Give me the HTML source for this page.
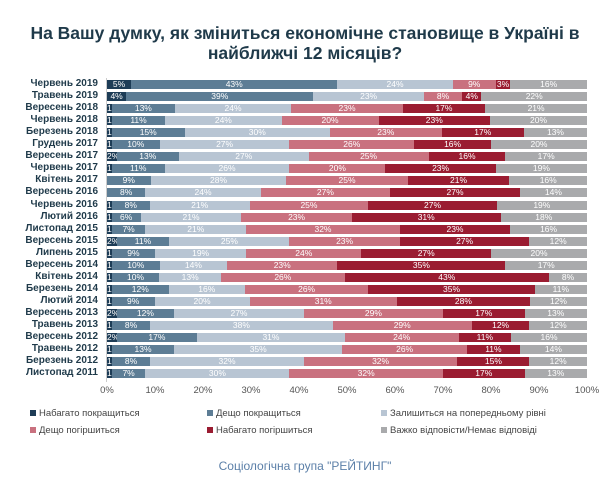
<!DOCTYPE html>
<html><head><meta charset="utf-8"><style>
body{margin:0;width:610px;height:483px;background:#fff;position:relative;overflow:hidden;font-family:"Liberation Sans","DejaVu Sans",sans-serif}
.t{position:absolute;left:0;width:610px;text-align:center;font-weight:bold;font-size:17.5px;color:#1f3a4a}
.lab{position:absolute;right:512px;font-size:10px;font-weight:bold;color:#1f3a4a;white-space:nowrap;line-height:12px}
.row{position:absolute;left:107px;width:480px;height:9px;display:flex}
.row div{height:9px;font-size:8.5px;line-height:9px;color:#fff;text-align:center;overflow:hidden;white-space:nowrap}
.a{background:#1d3c56}.b{background:#5d7d95}.c{background:#b8c5d3}.d{background:#c9717f}.e{background:#9a1c31}.f{background:#a9aaac}
.tick{position:absolute;top:385px;font-size:9.5px;color:#555;width:40px;margin-left:-20px;text-align:center}
.lg{position:absolute;font-size:9.5px;color:#444;white-space:nowrap}
.lg i{display:inline-block;width:6px;height:6px;margin-right:3px}
</style></head><body>
<div class="t" style="top:23px">На Вашу думку, як зміниться економічне становище в Україні в</div>
<div class="t" style="top:43px">найближчі 12 місяців?</div>
<div style="position:absolute;left:106px;top:78px;width:1px;height:304px;background:#ccc"></div>

<div class="lab" style="top:78px">Червень 2019</div>
<div class="row" style="top:80px"><div class="a" style="flex:5">5%</div><div class="b" style="flex:43">43%</div><div class="c" style="flex:24">24%</div><div class="d" style="flex:9">9%</div><div class="e" style="flex:3">3%</div><div class="f" style="flex:16">16%</div></div>
<div class="lab" style="top:90px">Травень 2019</div>
<div class="row" style="top:92px"><div class="a" style="flex:4">4%</div><div class="b" style="flex:39">39%</div><div class="c" style="flex:23">23%</div><div class="d" style="flex:8">8%</div><div class="e" style="flex:4">4%</div><div class="f" style="flex:22">22%</div></div>
<div class="lab" style="top:102px">Вересень 2018</div>
<div class="row" style="top:104px"><div class="a" style="flex:1">1%</div><div class="b" style="flex:13">13%</div><div class="c" style="flex:24">24%</div><div class="d" style="flex:23">23%</div><div class="e" style="flex:17">17%</div><div class="f" style="flex:21">21%</div></div>
<div class="lab" style="top:114px">Червень 2018</div>
<div class="row" style="top:116px"><div class="a" style="flex:1">1%</div><div class="b" style="flex:11">11%</div><div class="c" style="flex:24">24%</div><div class="d" style="flex:20">20%</div><div class="e" style="flex:23">23%</div><div class="f" style="flex:20">20%</div></div>
<div class="lab" style="top:126px">Березень 2018</div>
<div class="row" style="top:128px"><div class="a" style="flex:1">1%</div><div class="b" style="flex:15">15%</div><div class="c" style="flex:30">30%</div><div class="d" style="flex:23">23%</div><div class="e" style="flex:17">17%</div><div class="f" style="flex:13">13%</div></div>
<div class="lab" style="top:138px">Грудень 2017</div>
<div class="row" style="top:140px"><div class="a" style="flex:1">1%</div><div class="b" style="flex:10">10%</div><div class="c" style="flex:27">27%</div><div class="d" style="flex:26">26%</div><div class="e" style="flex:16">16%</div><div class="f" style="flex:20">20%</div></div>
<div class="lab" style="top:150px">Вересень 2017</div>
<div class="row" style="top:152px"><div class="a" style="flex:2">2%</div><div class="b" style="flex:13">13%</div><div class="c" style="flex:27">27%</div><div class="d" style="flex:25">25%</div><div class="e" style="flex:16">16%</div><div class="f" style="flex:17">17%</div></div>
<div class="lab" style="top:162px">Червень 2017</div>
<div class="row" style="top:164px"><div class="a" style="flex:1">1%</div><div class="b" style="flex:11">11%</div><div class="c" style="flex:26">26%</div><div class="d" style="flex:20">20%</div><div class="e" style="flex:23">23%</div><div class="f" style="flex:19">19%</div></div>
<div class="lab" style="top:174px">Квітень 2017</div>
<div class="row" style="top:176px"><div class="b" style="flex:9">9%</div><div class="c" style="flex:28">28%</div><div class="d" style="flex:25">25%</div><div class="e" style="flex:21">21%</div><div class="f" style="flex:16">16%</div></div>
<div class="lab" style="top:186px">Вересень 2016</div>
<div class="row" style="top:188px"><div class="b" style="flex:8">8%</div><div class="c" style="flex:24">24%</div><div class="d" style="flex:27">27%</div><div class="e" style="flex:27">27%</div><div class="f" style="flex:14">14%</div></div>
<div class="lab" style="top:199px">Червень 2016</div>
<div class="row" style="top:201px"><div class="a" style="flex:1">1%</div><div class="b" style="flex:8">8%</div><div class="c" style="flex:21">21%</div><div class="d" style="flex:25">25%</div><div class="e" style="flex:27">27%</div><div class="f" style="flex:19">19%</div></div>
<div class="lab" style="top:211px">Лютий 2016</div>
<div class="row" style="top:213px"><div class="a" style="flex:1">1%</div><div class="b" style="flex:6">6%</div><div class="c" style="flex:21">21%</div><div class="d" style="flex:23">23%</div><div class="e" style="flex:31">31%</div><div class="f" style="flex:18">18%</div></div>
<div class="lab" style="top:223px">Листопад 2015</div>
<div class="row" style="top:225px"><div class="a" style="flex:1">1%</div><div class="b" style="flex:7">7%</div><div class="c" style="flex:21">21%</div><div class="d" style="flex:32">32%</div><div class="e" style="flex:23">23%</div><div class="f" style="flex:16">16%</div></div>
<div class="lab" style="top:235px">Вересень 2015</div>
<div class="row" style="top:237px"><div class="a" style="flex:2">2%</div><div class="b" style="flex:11">11%</div><div class="c" style="flex:25">25%</div><div class="d" style="flex:23">23%</div><div class="e" style="flex:27">27%</div><div class="f" style="flex:12">12%</div></div>
<div class="lab" style="top:247px">Липень 2015</div>
<div class="row" style="top:249px"><div class="a" style="flex:1">1%</div><div class="b" style="flex:9">9%</div><div class="c" style="flex:19">19%</div><div class="d" style="flex:24">24%</div><div class="e" style="flex:27">27%</div><div class="f" style="flex:20">20%</div></div>
<div class="lab" style="top:259px">Вересень 2014</div>
<div class="row" style="top:261px"><div class="a" style="flex:1">1%</div><div class="b" style="flex:10">10%</div><div class="c" style="flex:14">14%</div><div class="d" style="flex:23">23%</div><div class="e" style="flex:35">35%</div><div class="f" style="flex:17">17%</div></div>
<div class="lab" style="top:271px">Квітень 2014</div>
<div class="row" style="top:273px"><div class="a" style="flex:1">1%</div><div class="b" style="flex:10">10%</div><div class="c" style="flex:13">13%</div><div class="d" style="flex:26">26%</div><div class="e" style="flex:43">43%</div><div class="f" style="flex:8">8%</div></div>
<div class="lab" style="top:283px">Березень 2014</div>
<div class="row" style="top:285px"><div class="a" style="flex:1">1%</div><div class="b" style="flex:12">12%</div><div class="c" style="flex:16">16%</div><div class="d" style="flex:26">26%</div><div class="e" style="flex:35">35%</div><div class="f" style="flex:11">11%</div></div>
<div class="lab" style="top:295px">Лютий 2014</div>
<div class="row" style="top:297px"><div class="a" style="flex:1">1%</div><div class="b" style="flex:9">9%</div><div class="c" style="flex:20">20%</div><div class="d" style="flex:31">31%</div><div class="e" style="flex:28">28%</div><div class="f" style="flex:12">12%</div></div>
<div class="lab" style="top:307px">Вересень 2013</div>
<div class="row" style="top:309px"><div class="a" style="flex:2">2%</div><div class="b" style="flex:12">12%</div><div class="c" style="flex:27">27%</div><div class="d" style="flex:29">29%</div><div class="e" style="flex:17">17%</div><div class="f" style="flex:13">13%</div></div>
<div class="lab" style="top:319px">Травень 2013</div>
<div class="row" style="top:321px"><div class="a" style="flex:1">1%</div><div class="b" style="flex:8">8%</div><div class="c" style="flex:38">38%</div><div class="d" style="flex:29">29%</div><div class="e" style="flex:12">12%</div><div class="f" style="flex:12">12%</div></div>
<div class="lab" style="top:331px">Вересень 2012</div>
<div class="row" style="top:333px"><div class="a" style="flex:2">2%</div><div class="b" style="flex:17">17%</div><div class="c" style="flex:31">31%</div><div class="d" style="flex:24">24%</div><div class="e" style="flex:11">11%</div><div class="f" style="flex:16">16%</div></div>
<div class="lab" style="top:343px">Травень 2012</div>
<div class="row" style="top:345px"><div class="a" style="flex:1">1%</div><div class="b" style="flex:13">13%</div><div class="c" style="flex:35">35%</div><div class="d" style="flex:26">26%</div><div class="e" style="flex:11">11%</div><div class="f" style="flex:14">14%</div></div>
<div class="lab" style="top:355px">Березень 2012</div>
<div class="row" style="top:357px"><div class="a" style="flex:1">1%</div><div class="b" style="flex:8">8%</div><div class="c" style="flex:32">32%</div><div class="d" style="flex:32">32%</div><div class="e" style="flex:15">15%</div><div class="f" style="flex:12">12%</div></div>
<div class="lab" style="top:367px">Листопад 2011</div>
<div class="row" style="top:369px"><div class="a" style="flex:1">1%</div><div class="b" style="flex:7">7%</div><div class="c" style="flex:30">30%</div><div class="d" style="flex:32">32%</div><div class="e" style="flex:17">17%</div><div class="f" style="flex:13">13%</div></div>

<div class="tick" style="left:107px">0%</div><div class="tick" style="left:155px">10%</div><div class="tick" style="left:203px">20%</div><div class="tick" style="left:251px">30%</div><div class="tick" style="left:299px">40%</div><div class="tick" style="left:347px">50%</div><div class="tick" style="left:395px">60%</div><div class="tick" style="left:443px">70%</div><div class="tick" style="left:491px">80%</div><div class="tick" style="left:539px">90%</div><div class="tick" style="left:587px">100%</div>

<div class="lg" style="left:30px;top:408px"><i class="a"></i>Набагато покращиться</div>
<div class="lg" style="left:207px;top:408px"><i class="b"></i>Дещо покращиться</div>
<div class="lg" style="left:381px;top:408px"><i class="c"></i>Залишиться на попередньому рівні</div>
<div class="lg" style="left:30px;top:425px"><i class="d"></i>Дещо погіршиться</div>
<div class="lg" style="left:207px;top:425px"><i class="e"></i>Набагато погіршиться</div>
<div class="lg" style="left:381px;top:425px"><i class="f"></i>Важко відповісти/Немає відповіді</div>

<div style="position:absolute;left:0;width:610px;top:459px;text-align:center;font-size:12px;color:#5b7fa8">Соціологічна група "РЕЙТИНГ"</div>
</body></html>
